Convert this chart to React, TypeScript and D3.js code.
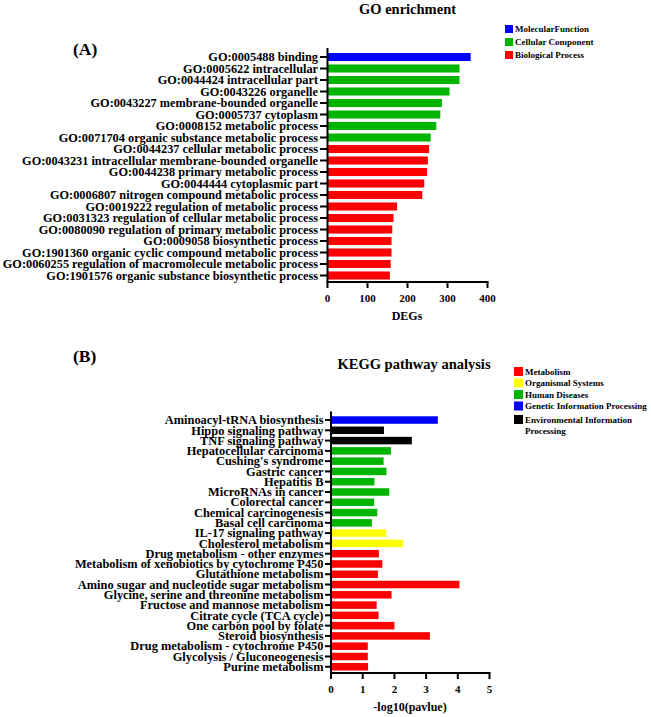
import React from "react";
import * as d3 from "d3";

const goTerms = [
  "GO:0005488 binding",
  "GO:0005622 intracellular",
  "GO:0044424 intracellular part",
  "GO:0043226 organelle",
  "GO:0043227 membrane-bounded organelle",
  "GO:0005737 cytoplasm",
  "GO:0008152 metabolic process",
  "GO:0071704 organic substance metabolic process",
  "GO:0044237 cellular metabolic process",
  "GO:0043231 intracellular membrane-bounded organelle",
  "GO:0044238 primary metabolic process",
  "GO:0044444 cytoplasmic part",
  "GO:0006807 nitrogen compound metabolic process",
  "GO:0019222 regulation of metabolic process",
  "GO:0031323 regulation of cellular metabolic process",
  "GO:0080090 regulation of primary metabolic process",
  "GO:0009058 biosynthetic process",
  "GO:1901360 organic cyclic compound metabolic process",
  "GO:0060255 regulation of macromolecule metabolic process",
  "GO:1901576 organic substance biosynthetic process",
];
const goValues = [358, 330, 330, 305, 286, 282, 272, 258, 254, 251, 249, 242, 237, 174, 165, 162, 160, 160, 158, 156];
const goGroups = ["MF", "CC", "CC", "CC", "CC", "CC", "CC", "CC", "BP", "BP", "BP", "BP", "BP", "BP", "BP", "BP", "BP", "BP", "BP", "BP"];
const goLegendKeys = ["MF", "CC", "BP"];
const goLegendLabels = ["MolecularFunction", "Cellular Component", " Biological Process"];
const goTicks = [0, 100, 200, 300, 400];

const keggTerms = [
  "Aminoacyl-tRNA biosynthesis",
  "Hippo signaling pathway",
  "TNF signaling pathway",
  "Hepatocellular carcinoma",
  "Cushing's syndrome",
  "Gastric cancer",
  "Hepatitis B",
  "MicroRNAs in cancer",
  "Colorectal cancer",
  "Chemical carcinogenesis",
  "Basal cell carcinoma",
  "IL-17 signaling pathway",
  "Cholesterol metabolism",
  "Drug metabolism - other enzymes",
  "Metabolism of xenobiotics by cytochrome P450",
  "Glutathione metabolism",
  "Amino sugar and nucleotide sugar metabolism",
  "Glycine, serine and threonine metabolism",
  "Fructose and mannose metabolism",
  "Citrate cycle (TCA cycle)",
  "One carbon pool by folate",
  "Steroid biosynthesis",
  "Drug metabolism - cytochrome P450",
  "Glycolysis / Gluconeogenesis",
  "Purine metabolism",
];
const keggValues = [3.37, 1.67, 2.55, 1.89, 1.66, 1.75, 1.37, 1.84, 1.36, 1.46, 1.29, 1.74, 2.28, 1.51, 1.62, 1.48, 4.05, 1.91, 1.44, 1.5, 2.0, 3.12, 1.16, 1.16, 1.17];
const keggGroups = ["GIP", "EIP", "EIP", "HD", "HD", "HD", "HD", "HD", "HD", "HD", "HD", "OS", "OS", "M", "M", "M", "M", "M", "M", "M", "M", "M", "M", "M", "M"];
const keggLegendKeys = ["M", "OS", "HD", "GIP", "EIP"];
const keggLegendLabels = [["Metabolism"], ["Organismal Systems"], [" Human Diseases"], ["Genetic Information Processing"], ["Environmental Information", "Processing"]];
const keggTicks = [0, 1, 2, 3, 4, 5];

const FONT = "'Liberation Serif', 'Times New Roman', serif";

const goColor = d3.scaleOrdinal<string, string>().domain(goLegendKeys).range(["#0000ff", "#00b400", "#ff0000"]);
const keggColor = d3.scaleOrdinal<string, string>().domain(keggLegendKeys).range(["#ff0000", "#ffff00", "#00b400", "#0000ff", "#000000"]);

export default function App() {
  // GO chart scales
  const gx = d3.scaleLinear().domain([0, 400]).range([327.5, 487.5]);
  const gy = d3.scaleBand<string>().domain(goTerms).range([51.25, 281.25]).paddingInner(0.3).paddingOuter(0.15);
  const gAxisY = 282;

  // KEGG chart scales
  const kx = d3.scaleLinear().domain([0, 5]).range([331, 489.5]);
  const ky = d3.scaleBand<string>().domain(keggTerms).range([414.9, 671.9]).paddingInner(0.27).paddingOuter(0.135);
  const kAxisY = 673;

  return (
    <svg width={651} height={717} style={{ position: "absolute", left: 0, top: 0, background: "#fff" }} fontFamily={FONT} fontWeight="bold">
      <rect x={0} y={0} width={651} height={717} fill="#fff" />
      {/* ===== GO chart ===== */}
      <text x={407.5} y={14} textAnchor="middle" fontSize={14.5}>GO enrichment</text>
      <text x={73} y={55} fontSize={17.5}>(A)</text>
      {goLegendKeys.map((k, i) => (
        <g key={k}>
          <rect x={505} y={25 + i * 13} width={8} height={8} fill={goColor(k)} />
          <text x={515} y={32 + i * 13} fontSize={9}>{goLegendLabels[i]}</text>
        </g>
      ))}
      {goTerms.map((t, i) => (
        <rect key={t} x={gx(0)} y={gy(t)!} width={gx(goValues[i]) - gx(0)} height={gy.bandwidth()} fill={goColor(goGroups[i])} />
      ))}
      {goTerms.map((t) => {
        const cy = gy(t)! + gy.bandwidth() / 2;
        return (
          <g key={t}>
            <line x1={320} x2={gx(0)} y1={cy} y2={cy} stroke="#000" strokeWidth={2} />
            <text x={318} y={cy + 4.2} textAnchor="end" fontSize={12.3}>{t}</text>
          </g>
        );
      })}
      <line x1={gx(0)} x2={gx(0)} y1={48} y2={gAxisY + 1} stroke="#000" strokeWidth={2} />
      <line x1={gx(0) - 1} x2={gx(400) + 1} y1={gAxisY} y2={gAxisY} stroke="#000" strokeWidth={2} />
      {goTicks.map((v) => (
        <g key={v}>
          <line x1={gx(v)} x2={gx(v)} y1={gAxisY} y2={gAxisY + 6} stroke="#000" strokeWidth={2} />
          <text x={gx(v)} y={302} textAnchor="middle" fontSize={11}>{v}</text>
        </g>
      ))}
      <text x={407} y={320} textAnchor="middle" fontSize={12}>DEGs</text>

      {/* ===== KEGG chart ===== */}
      <text x={73} y={362} fontSize={17.5}>(B)</text>
      <text x={414} y={369} textAnchor="middle" fontSize={14.5}>KEGG pathway analysis</text>
      {keggLegendKeys.map((k, i) => (
        <g key={k}>
          <rect x={514} y={367 + i * 11.5 + (i === 4 ? 2 : 0)} width={9} height={9} fill={keggColor(k)} />
          {keggLegendLabels[i].map((line, j) => (
            <text key={j} x={525} y={374.5 + i * 11.5 + (i === 4 ? 2 : 0) + j * 11} fontSize={9}>{line}</text>
          ))}
        </g>
      ))}
      {keggTerms.map((t, i) => (
        <rect key={t} x={kx(0)} y={ky(t)!} width={kx(keggValues[i]) - kx(0)} height={ky.bandwidth()} fill={keggColor(keggGroups[i])} />
      ))}
      {keggTerms.map((t) => {
        const cy = ky(t)! + ky.bandwidth() / 2;
        return (
          <g key={t}>
            <line x1={325} x2={kx(0)} y1={cy} y2={cy} stroke="#000" strokeWidth={2} />
            <text x={323.5} y={cy + 4.2} textAnchor="end" fontSize={12.4}>{t}</text>
          </g>
        );
      })}
      <line x1={kx(0)} x2={kx(0)} y1={411.5} y2={kAxisY + 1} stroke="#000" strokeWidth={2} />
      <line x1={kx(0) - 1} x2={kx(5) + 1} y1={kAxisY} y2={kAxisY} stroke="#000" strokeWidth={2} />
      {keggTicks.map((v) => (
        <g key={v}>
          <line x1={kx(v)} x2={kx(v)} y1={kAxisY} y2={kAxisY + 6} stroke="#000" strokeWidth={2} />
          <text x={kx(v)} y={693} textAnchor="middle" fontSize={11}>{v}</text>
        </g>
      ))}
      <text x={410} y={711} textAnchor="middle" fontSize={12}>-log10(pavlue)</text>
    </svg>
  );
}
